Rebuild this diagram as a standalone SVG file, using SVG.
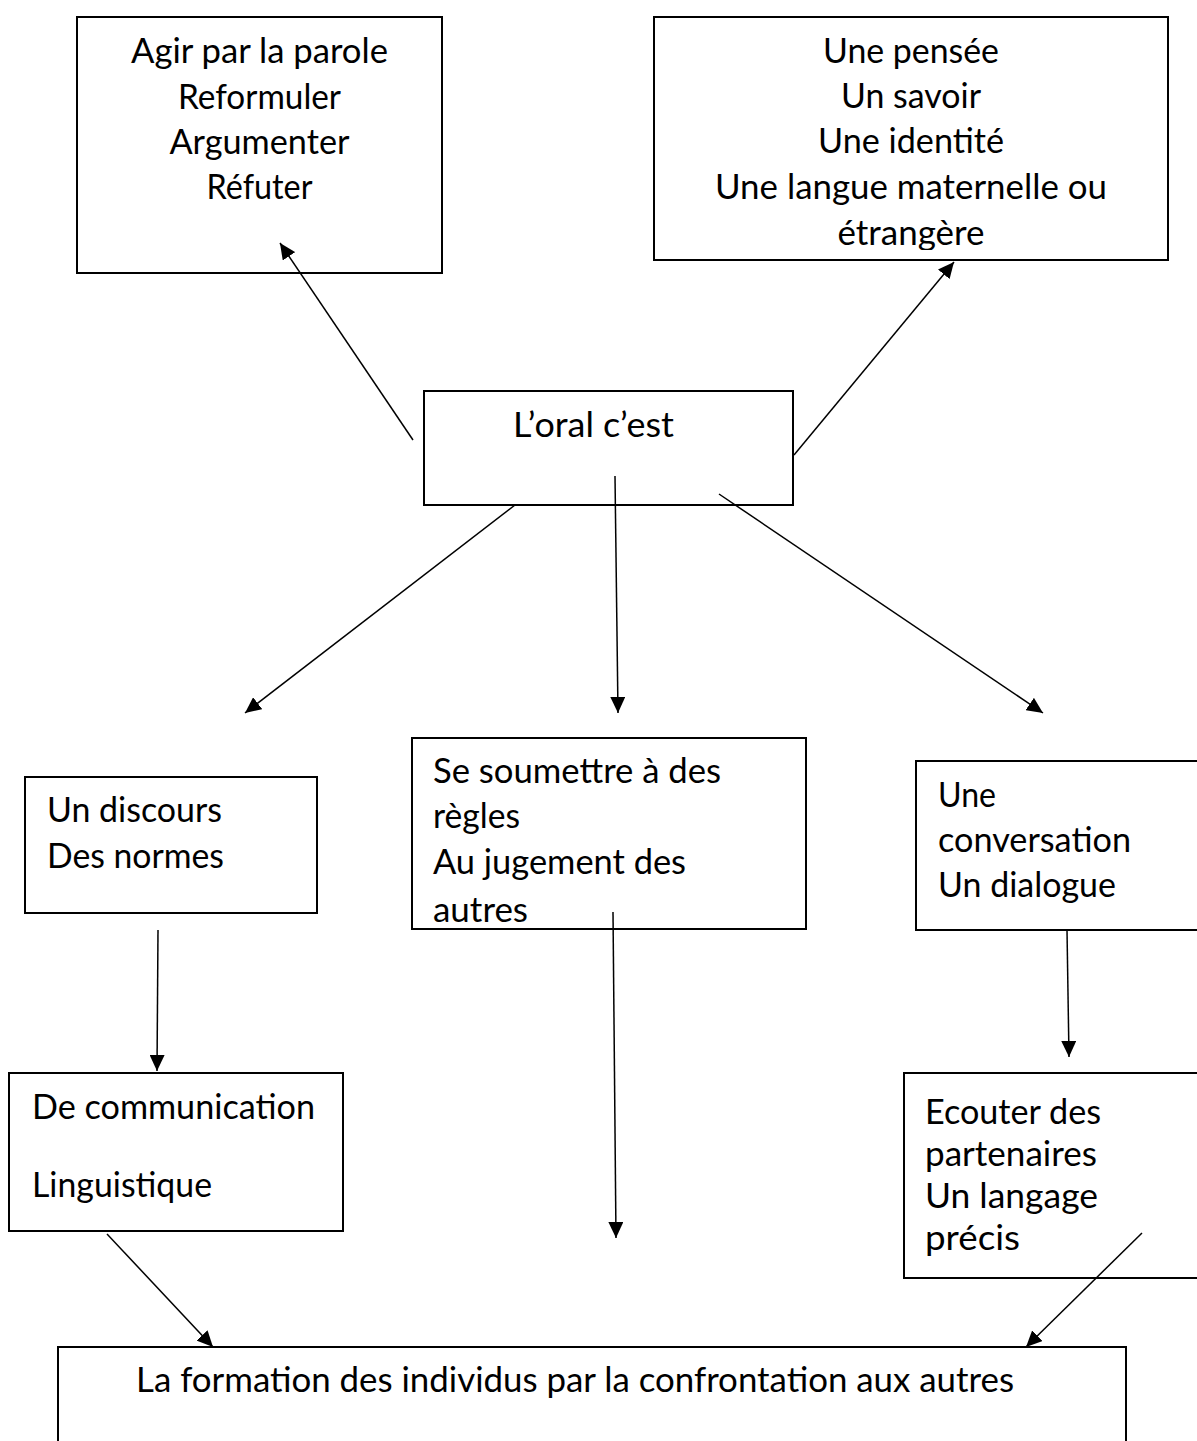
<svg xmlns="http://www.w3.org/2000/svg" width="1197" height="1441" viewBox="0 0 1197 1441">
  <style>
    .box { fill: #fff; stroke: #000; stroke-width: 2; }
    .t { font-family: Lato, "Liberation Sans", Arial, sans-serif; font-size: 35px; fill: #000; }
    .c { text-anchor: middle; }
    .conn line { stroke: #000; stroke-width: 1.5; marker-end: url(#ah); }
  </style>
  <defs>
    <marker id="ah" markerUnits="userSpaceOnUse" markerWidth="17" markerHeight="15" refX="16" refY="7.5" orient="auto">
      <path d="M0,0 L16,7.5 L0,15 z" fill="#000"/>
    </marker>
    <clipPath id="clip2"><rect x="654" y="17" width="514" height="233"/></clipPath>
    <clipPath id="clip5"><rect x="412" y="738" width="394" height="189"/></clipPath>
  </defs>
  <rect width="1197" height="1441" fill="#fff"/>

  <g id="node-agir">
    <rect class="box" x="77" y="17" width="365" height="256"/>
    <text class="t c" x="259.5" y="63" textLength="257" lengthAdjust="spacingAndGlyphs">Agir par la parole</text>
    <text class="t c" x="259.5" y="109" textLength="163" lengthAdjust="spacingAndGlyphs">Reformuler</text>
    <text class="t c" x="259.5" y="154" textLength="180" lengthAdjust="spacingAndGlyphs">Argumenter</text>
    <text class="t c" x="259.5" y="199" textLength="106" lengthAdjust="spacingAndGlyphs">Réfuter</text>
  </g>

  <g id="node-pensee">
    <rect class="box" x="654" y="17" width="514" height="243"/>
    <g clip-path="url(#clip2)">
      <text class="t c" x="911" y="63" textLength="176" lengthAdjust="spacingAndGlyphs">Une pensée</text>
      <text class="t c" x="911" y="108" textLength="140" lengthAdjust="spacingAndGlyphs">Un savoir</text>
      <text class="t c" x="911" y="153" textLength="186" lengthAdjust="spacingAndGlyphs">Une identité</text>
      <text class="t c" x="911" y="199" textLength="392" lengthAdjust="spacingAndGlyphs">Une langue maternelle ou</text>
      <text class="t c" x="911" y="245" textLength="147" lengthAdjust="spacingAndGlyphs">étrangère</text>
    </g>
  </g>

  <g id="node-oral">
    <rect class="box" x="424" y="391" width="369" height="114"/>
    <text class="t" x="513" y="437" textLength="161" lengthAdjust="spacingAndGlyphs">L’oral c’est</text>
  </g>

  <g id="node-discours">
    <rect class="box" x="25" y="777" width="292" height="136"/>
    <text class="t" x="47" y="822" textLength="175" lengthAdjust="spacingAndGlyphs">Un discours</text>
    <text class="t" x="47" y="868" textLength="177" lengthAdjust="spacingAndGlyphs">Des normes</text>
  </g>

  <g id="node-regles">
    <rect class="box" x="412" y="738" width="394" height="191"/>
    <g clip-path="url(#clip5)">
      <text class="t" x="433" y="783" textLength="288" lengthAdjust="spacingAndGlyphs">Se soumettre à des</text>
      <text class="t" x="433" y="828" textLength="87" lengthAdjust="spacingAndGlyphs">règles</text>
      <text class="t" x="433" y="874" textLength="253" lengthAdjust="spacingAndGlyphs">Au jugement des</text>
      <text class="t" x="433" y="922" textLength="95" lengthAdjust="spacingAndGlyphs">autres</text>
    </g>
  </g>

  <g id="node-conversation">
    <rect class="box" x="916" y="761" width="283" height="169"/>
    <text class="t" x="938" y="807" textLength="58" lengthAdjust="spacingAndGlyphs">Une</text>
    <text class="t" x="938" y="852" textLength="193" lengthAdjust="spacingAndGlyphs">conversation</text>
    <text class="t" x="938" y="897" textLength="178" lengthAdjust="spacingAndGlyphs">Un dialogue</text>
  </g>

  <g id="node-communication">
    <rect class="box" x="9" y="1073" width="334" height="158"/>
    <text class="t" x="32" y="1119" textLength="283" lengthAdjust="spacingAndGlyphs">De communication</text>
    <text class="t" x="32" y="1197" textLength="180" lengthAdjust="spacingAndGlyphs">Linguistique</text>
  </g>

  <g id="node-ecouter">
    <rect class="box" x="904" y="1073" width="295" height="205"/>
    <text class="t" x="925" y="1124" textLength="176" lengthAdjust="spacingAndGlyphs">Ecouter des</text>
    <text class="t" x="925" y="1166" textLength="172" lengthAdjust="spacingAndGlyphs">partenaires</text>
    <text class="t" x="925" y="1208" textLength="173" lengthAdjust="spacingAndGlyphs">Un langage</text>
    <text class="t" x="925" y="1250" textLength="95" lengthAdjust="spacingAndGlyphs">précis</text>
  </g>

  <g id="node-formation">
    <rect class="box" x="58" y="1347" width="1068" height="120"/>
    <text class="t" x="136" y="1392" textLength="878" lengthAdjust="spacingAndGlyphs">La formation des individus par la confrontation aux autres</text>
  </g>

  <g id="connectors" class="conn">
    <line x1="413" y1="440" x2="280" y2="243"/>
    <line x1="794" y1="455" x2="954" y2="262"/>
    <line x1="515" y1="505" x2="245" y2="713"/>
    <line x1="615" y1="476" x2="618" y2="713"/>
    <line x1="719" y1="494" x2="1043" y2="713"/>
    <line x1="158" y1="930" x2="157" y2="1071"/>
    <line x1="613" y1="912" x2="616" y2="1238"/>
    <line x1="1067" y1="930" x2="1069" y2="1057"/>
    <line x1="107" y1="1234" x2="213" y2="1347"/>
    <line x1="1142" y1="1233" x2="1026" y2="1347"/>
  </g>
</svg>
